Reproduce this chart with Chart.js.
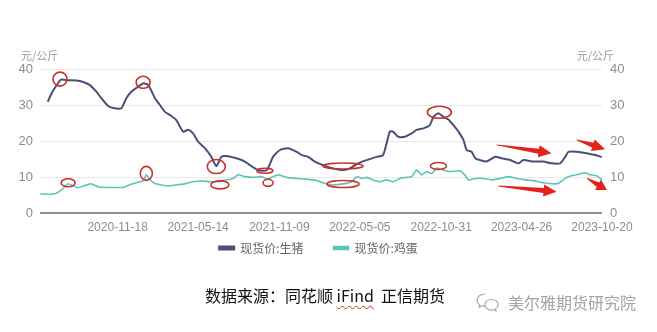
<!DOCTYPE html>
<html>
<head>
<meta charset="utf-8">
<script src="https://cdn.jsdelivr.net/npm/chart.js@4.4.1/dist/chart.umd.min.js"></script>
<style>
  body { margin: 0; background: #fff; width: 657px; height: 332px; overflow: hidden; position: relative;
         font-family: "Noto Sans CJK SC", "Noto Sans", sans-serif; }
  #wrap { position: absolute; left: 0; top: 0; width: 657px; height: 291px; }
  #src { position: absolute; left: 205px; top: 284px; font-size: 16px; line-height: 22px; color: #111; white-space: pre; }
  #src .typo { text-decoration: underline wavy #c0392b; text-decoration-thickness: 1px; text-underline-offset: 3px; }
  #wm { position: absolute; left: 475px; top: 291px; height: 22px; display: flex; align-items: center; color: #a3a3a3;
        font-size: 16px; white-space: nowrap; }
  #wm svg { margin-right: 8px; }
</style>
</head>
<body>
<div id="wrap"><canvas id="chart"></canvas></div>
<div id="src">数据来源：同花顺 <span class="typo">iFind</span>  正信期货</div>
<div id="wm">
  <svg width="25" height="20" viewBox="0 0 25 20"><g fill="none" stroke="#aaa" stroke-width="1.2">
    <path d="M10 2c-4.4 0-8 2.8-8 6.2 0 1.9 1.1 3.6 2.8 4.7l-0.7 2.3 2.7-1.4c1 0.3 2.1 0.5 3.2 0.5"/>
    <path d="M16.5 7.5c-3.7 0-6.7 2.4-6.7 5.3s3 5.3 6.7 5.3c0.8 0 1.600-0.1 2.3-0.3l2.2 1.1-0.6-1.9c1.7-1 2.8-2.5 2.8-4.2 0-2.900-3-5.3-6.7-5.3z"/>
  </g></svg>美尔雅期货研究院
</div>
<script>
// x axis labels and range
const tickDates = ['2020-11-18', '2021-05-14', '2021-11-09', '2022-05-05', '2022-10-31', '2023-04-26', '2023-10-20'];
const axisStart = '2020-05-31';
const axisEnd = '2023-10-20';

// 现货价:生猪 (元/公斤)
const pigDates = ['2020-06-17','2020-06-28','2020-07-14','2020-07-17','2020-07-28','2020-08-19','2020-09-03','2020-09-17',
  '2020-10-02','2020-10-13','2020-10-28','2020-11-11','2020-11-26','2020-12-07','2020-12-18','2021-01-02','2021-01-13',
  '2021-01-24','2021-02-08','2021-02-19','2021-03-02','2021-03-13','2021-03-27','2021-04-11','2021-04-22','2021-05-03',
  '2021-05-14','2021-05-29','2021-06-12','2021-06-23','2021-07-04','2021-07-15','2021-08-06','2021-08-25','2021-09-05',
  '2021-09-23','2021-10-12','2021-10-26','2021-11-10','2021-11-28','2021-12-17','2021-12-28','2022-01-11','2022-01-26',
  '2022-02-13','2022-03-07','2022-03-26','2022-04-13','2022-05-01','2022-05-20','2022-06-11','2022-06-25','2022-07-03',
  '2022-07-10','2022-07-17','2022-07-28','2022-08-12','2022-08-27','2022-09-07','2022-09-22','2022-10-06','2022-10-14',
  '2022-10-25','2022-11-05','2022-11-16','2022-11-27','2022-12-08','2022-12-19','2022-12-26','2023-01-06','2023-01-14',
  '2023-01-24','2023-02-08','2023-02-27','2023-03-13','2023-04-01','2023-04-19','2023-04-30','2023-05-22','2023-06-13',
  '2023-07-01','2023-07-20','2023-07-31','2023-08-07','2023-08-25','2023-09-16','2023-10-05','2023-10-20'];
const pigPrices = [30.9, 33.8, 36.8, 37.1, 36.9, 36.8, 36.4, 35.6,
  33.7, 31.9, 29.7, 29.1, 29.1, 31.9, 33.7, 35.1, 36.0,
  35.6, 31.9, 30.0, 28.1, 27.2, 25.8, 22.6, 23.1, 22.1,
  19.8, 18.0, 15.6, 13.0, 15.6, 15.8, 15.2, 14.3, 13.3,
  11.9, 11.9, 15.6, 17.5, 18.0, 17.0, 16.1, 15.6, 14.3,
  13.3, 12.4, 11.9, 12.4, 13.8, 14.7, 15.6, 16.1, 19.4,
  22.6, 22.6, 21.2, 21.2, 22.1, 23.1, 23.5, 24.4, 26.7,
  27.7, 26.7, 26.0, 24.4, 22.6, 20.3, 17.5, 17.0, 15.2,
  14.7, 14.3, 15.6, 15.2, 14.7, 13.8, 14.7, 14.3, 14.3,
  13.8, 13.8, 15.6, 17.0, 17.0, 16.6, 16.1, 15.5];

// 现货价:鸡蛋 (元/公斤)
const eggDates = ['2020-06-01','2020-06-21','2020-07-06','2020-07-17','2020-08-01','2020-08-12','2020-08-23','2020-09-06',
  '2020-09-21','2020-10-06','2020-10-24','2020-11-11','2020-11-30','2020-12-14','2020-12-29','2021-01-13','2021-01-20',
  '2021-01-27','2021-02-08','2021-02-22','2021-03-09','2021-03-27','2021-04-15','2021-05-03','2021-05-21','2021-06-09',
  '2021-06-27','2021-07-15','2021-07-30','2021-08-10','2021-08-25','2021-09-12','2021-10-01','2021-10-12','2021-10-23',
  '2021-11-06','2021-11-25','2021-12-17','2022-01-08','2022-01-30','2022-02-17','2022-03-07','2022-03-29','2022-04-17',
  '2022-04-28','2022-05-09','2022-05-20','2022-06-03','2022-06-18','2022-07-03','2022-07-17','2022-08-01','2022-08-16',
  '2022-08-27','2022-09-07','2022-09-18','2022-09-29','2022-10-10','2022-10-21','2022-11-05','2022-11-19','2022-12-11',
  '2022-12-22','2022-12-30','2023-01-14','2023-02-01','2023-02-19','2023-03-10','2023-03-28','2023-04-15','2023-05-04',
  '2023-05-22','2023-06-13','2023-07-05','2023-07-16','2023-07-31','2023-08-11','2023-08-25','2023-09-13','2023-09-24',
  '2023-10-09','2023-10-20'];
const eggPrices = [5.3, 5.2, 5.5, 6.4, 8.1, 7.5, 7.0, 7.6,
  8.1, 7.3, 7.1, 7.1, 7.1, 7.8, 8.4, 9.0, 10.6,
  9.4, 8.2, 7.8, 7.5, 7.8, 8.1, 8.7, 8.9, 8.7,
  8.7, 9.2, 9.6, 10.6, 10.1, 9.9, 10.1, 9.4, 9.9,
  10.6, 9.9, 9.6, 9.4, 9.0, 8.2, 7.8, 8.1, 8.7,
  10.1, 9.6, 9.9, 9.2, 8.7, 9.2, 8.7, 9.6, 9.9,
  10.1, 11.9, 10.6, 11.5, 11.0, 12.4, 11.9, 11.5, 11.7,
  10.6, 9.2, 9.6, 9.6, 9.2, 9.6, 10.1, 9.6, 9.2,
  9.0, 8.4, 8.1, 8.2, 9.6, 10.3, 10.6, 11.2, 10.6,
  10.3, 9.2];

// hand-drawn red marks on the original picture, anchored in data space
const circleMarks = [
  { date: '2020-07-14', value: 37.2, rx: 7, ry: 7 },
  { date: '2021-01-13', value: 36.3, rx: 7, ry: 6 },
  { date: '2021-06-23', value: 12.9, rx: 9, ry: 7 },
  { date: '2020-08-01', value: 8.4, rx: 7, ry: 4 },
  { date: '2021-01-20', value: 11.0, rx: 6, ry: 7 },
  { date: '2021-07-01', value: 7.8, rx: 9, ry: 4 },
  { date: '2021-10-08', value: 11.75, rx: 8, ry: 2.5 },
  { date: '2021-10-15', value: 8.4, rx: 5, ry: 3.5 },
  { date: '2022-03-29', value: 13.05, rx: 20, ry: 3 },
  { date: '2022-03-29', value: 8.05, rx: 16, ry: 3.5 },
  { date: '2022-10-27', value: 28.0, rx: 12, ry: 6 },
  { date: '2022-10-25', value: 13.05, rx: 8, ry: 3.5 }
];
const arrowMarks = [
  { from: ['2023-03-02', 18.9], to: ['2023-07-01', 16.6] },
  { from: ['2023-03-06', 7.5], to: ['2023-07-12', 5.9] },
  { from: ['2023-08-25', 20.3], to: ['2023-10-27', 17.7] },
  { from: ['2023-09-17', 9.6], to: ['2023-10-31', 6.4] }
];

function day(s) {
  return Date.parse(s + 'T00:00:00Z') / 86400000;
}

const tickColor = '#8c8c8c';
const cjk = '"Noto Sans CJK SC", sans-serif';

const extrasPlugin = {
  id: 'extras',
  afterLayout(chart) {
    // legend sits a bit left of and above where chart.js puts it
    const lg = chart.legend;
    lg.left -= 10; lg.right -= 10;
    lg.top -= 27; lg.bottom -= 27;
  },
  afterDatasetsDraw(chart) {
    const { ctx, scales: { x, y } } = chart;
    ctx.save();
    ctx.strokeStyle = '#c8342c';
    ctx.lineWidth = 1.6;
    circleMarks.forEach(m => {
      ctx.beginPath();
      ctx.ellipse(x.getPixelForValue(day(m.date)), y.getPixelForValue(m.value), m.rx, m.ry, 0, 0, Math.PI * 2);
      ctx.stroke();
    });
    ctx.fillStyle = '#e3231b';
    arrowMarks.forEach(a => {
      const x0 = x.getPixelForValue(day(a.from[0])), y0 = y.getPixelForValue(a.from[1]);
      const x1 = x.getPixelForValue(day(a.to[0])), y1 = y.getPixelForValue(a.to[1]);
      const L = Math.hypot(x1 - x0, y1 - y0);
      const ux = (x1 - x0) / L, uy = (y1 - y0) / L;
      const nx = -uy, ny = ux;
      const h = Math.min(13, L * 0.45);
      const bx = x1 - ux * h, by = y1 - uy * h;
      ctx.beginPath();
      ctx.moveTo(x0 + nx * 0.4, y0 + ny * 0.4);
      ctx.lineTo(bx + nx * 2.5, by + ny * 2.5);
      ctx.lineTo(bx + nx * 6, by + ny * 6);
      ctx.lineTo(x1, y1);
      ctx.lineTo(bx - nx * 6, by - ny * 6);
      ctx.lineTo(bx - nx * 2.5, by - ny * 2.5);
      ctx.lineTo(x0 - nx * 0.4, y0 - ny * 0.4);
      ctx.closePath();
      ctx.fill();
    });
    // unit labels above both axes
    ctx.fillStyle = '#9a9a9a';
    ctx.font = '11px ' + cjk;
    ctx.textBaseline = 'middle';
    ctx.textAlign = 'left';
    ctx.fillText('元/公斤', 21, chart.chartArea.top - 13);
    ctx.textAlign = 'right';
    ctx.fillText('元/公斤', 614, chart.chartArea.top - 13);
    ctx.restore();
  }
};

const ctx = document.getElementById('chart').getContext('2d');

const chart = new Chart(ctx, {
  type: 'line',
  data: {
    datasets: [{
      label: '现货价:生猪',
      data: pigDates.map((d, i) => ({ x: day(d), y: pigPrices[i] })),
      borderColor: '#4b4f78',
      backgroundColor: '#4b4f78',
      borderWidth: 2,
      pointRadius: 0,
      tension: 0.2
    }, {
      label: '现货价:鸡蛋',
      data: eggDates.map((d, i) => ({ x: day(d), y: eggPrices[i] })),
      borderColor: '#5ec5b6',
      backgroundColor: '#5ec5b6',
      borderWidth: 1.6,
      pointRadius: 0,
      tension: 0.2
    }]
  },
  options: {
    responsive: true,
    maintainAspectRatio: false,
    animation: false,
    layout: { padding: { top: 69, left: 0, right: 0, bottom: 0 } },
    plugins: {
      legend: {
        position: 'bottom',
        labels: {
          boxWidth: 15,
          boxHeight: 3,
          padding: 30,
          color: '#666',
          font: { size: 12, family: cjk }
        }
      },
      tooltip: { enabled: false }
    },
    scales: {
      x: {
        type: 'linear',
        min: day(axisStart),
        max: day(axisEnd),
        grid: { display: false, drawTicks: false },
        border: { display: false },
        afterBuildTicks: (scale) => {
          scale.ticks = tickDates.map(d => ({ value: day(d) }));
        },
        afterFit: (scale) => { scale.height = 26; },
        ticks: {
          autoSkip: false,
          maxRotation: 0,
          padding: 7,
          color: tickColor,
          font: { size: 12, family: '"Liberation Sans", Arial, sans-serif' },
          callback: (value, index) => tickDates[index]
        }
      },
      y: {
        position: 'left',
        min: 0,
        max: 40,
        border: { display: false },
        grid: {
          drawTicks: false,
          color: (c) => c.tick.value === 0 ? '#8f8f8f' : '#e8e8e8',
          lineWidth: (c) => c.tick.value === 0 ? 2 : 1
        },
        afterFit: (scale) => { scale.width = 40; },
        ticks: {
          stepSize: 10,
          padding: 7,
          color: tickColor,
          font: { size: 13, family: '"Liberation Sans", Arial, sans-serif' }
        }
      },
      y1: {
        position: 'right',
        min: 0,
        max: 40,
        border: { display: false },
        grid: { display: false, drawTicks: false },
        afterFit: (scale) => { scale.width = 55; },
        ticks: {
          stepSize: 10,
          padding: 8,
          color: tickColor,
          font: { size: 13, family: '"Liberation Sans", Arial, sans-serif' }
        }
      }
    }
  },
  plugins: [extrasPlugin]
});
</script>
</body>
</html>
